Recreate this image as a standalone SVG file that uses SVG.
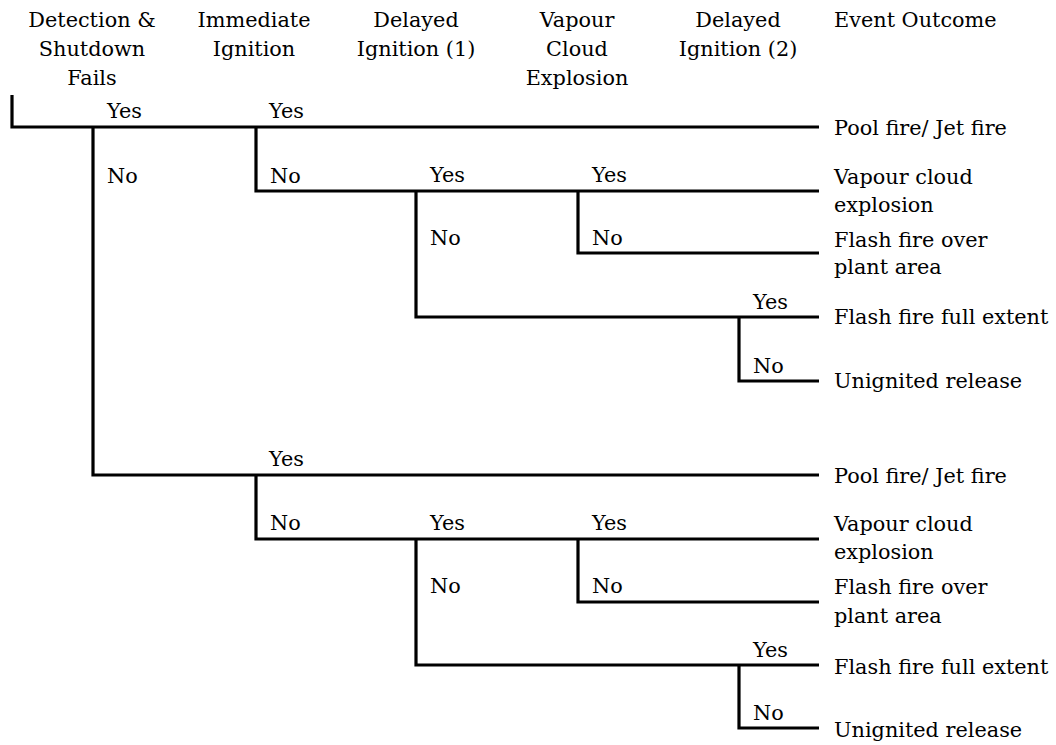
<svg xmlns="http://www.w3.org/2000/svg" width="1056" height="745" viewBox="0 0 1056 745">
<style>
text{font-family:"DejaVu Serif","Liberation Serif",serif;font-size:20.8px;fill:#000}
.h{text-anchor:middle}
.ln{fill:none;stroke:#000;stroke-width:3.2;stroke-linejoin:miter;stroke-linecap:butt}
</style>
<rect width="1056" height="745" fill="#fff"/>
<g id="headers">
<g id="h1"><text class="h" x="92" y="27">Detection &amp;</text><text class="h" x="92" y="56">Shutdown</text><text class="h" x="92" y="85">Fails</text></g>
<g id="h2"><text class="h" x="254" y="27">Immediate</text><text class="h" x="254" y="56">Ignition</text></g>
<g id="h3"><text class="h" x="416" y="27">Delayed</text><text class="h" x="416" y="56">Ignition (1)</text></g>
<g id="h4"><text class="h" x="577" y="27">Vapour</text><text class="h" x="577" y="56">Cloud</text><text class="h" x="577" y="85">Explosion</text></g>
<g id="h5"><text class="h" x="738" y="27">Delayed</text><text class="h" x="738" y="56">Ignition (2)</text></g>
<g id="h6"><text x="834" y="27">Event Outcome</text></g>
</g>
<g id="connectors" class="ln">
<path d="M12,95 V127 H819"/>
<path d="M93,127 V475 H819"/>
<path d="M256,127 V191 H819"/>
<path d="M416,191 V317 H819"/>
<path d="M578,191 V253 H819"/>
<path d="M739,317 V381 H819"/>
<path d="M256,475 V539 H819"/>
<path d="M416,539 V665 H819"/>
<path d="M578,539 V602 H819"/>
<path d="M739,665 V728 H819"/>
</g>
<g id="branch-labels">
<g id="l1"><text x="107" y="118">Yes</text></g>
<g id="l2"><text x="107" y="183">No</text></g>
<g id="l3"><text x="269" y="118">Yes</text></g>
<g id="l4"><text x="270" y="183">No</text></g>
<g id="l5"><text x="430" y="182">Yes</text></g>
<g id="l6"><text x="430" y="245">No</text></g>
<g id="l7"><text x="592" y="182">Yes</text></g>
<g id="l8"><text x="592" y="245">No</text></g>
<g id="l9"><text x="753" y="309">Yes</text></g>
<g id="l10"><text x="753" y="373">No</text></g>
<g id="l11"><text x="269" y="466">Yes</text></g>
<g id="l12"><text x="270" y="530">No</text></g>
<g id="l13"><text x="430" y="530">Yes</text></g>
<g id="l14"><text x="430" y="593">No</text></g>
<g id="l15"><text x="592" y="530">Yes</text></g>
<g id="l16"><text x="592" y="593">No</text></g>
<g id="l17"><text x="753" y="657">Yes</text></g>
<g id="l18"><text x="753" y="720">No</text></g>
</g>
<g id="outcomes">
<g id="o1"><text x="834" y="135">Pool fire/ Jet fire</text></g>
<g id="o2"><text x="834" y="184">Vapour cloud</text><text x="834" y="212">explosion</text></g>
<g id="o3"><text x="834" y="247">Flash fire over</text><text x="834" y="274">plant area</text></g>
<g id="o4"><text x="834" y="324">Flash fire full extent</text></g>
<g id="o5"><text x="834" y="388">Unignited release</text></g>
<g id="o6"><text x="834" y="483">Pool fire/ Jet fire</text></g>
<g id="o7"><text x="834" y="531">Vapour cloud</text><text x="834" y="559">explosion</text></g>
<g id="o8"><text x="834" y="594">Flash fire over</text><text x="834" y="623">plant area</text></g>
<g id="o9"><text x="834" y="674">Flash fire full extent</text></g>
<g id="o10"><text x="834" y="737">Unignited release</text></g>
</g>
</svg>
